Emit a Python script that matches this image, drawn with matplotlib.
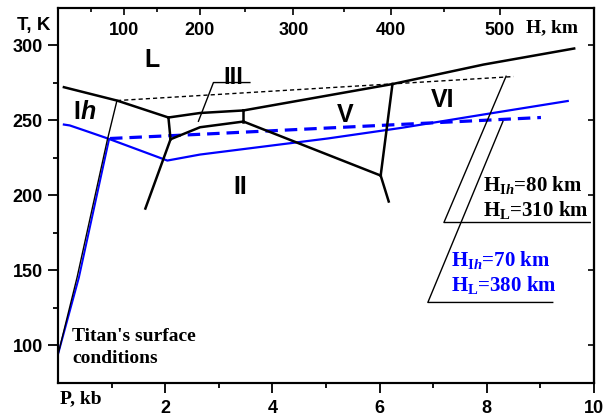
import matplotlib
matplotlib.use("Agg")
import matplotlib.pyplot as plt
import numpy as np

plt.rcParams['font.family'] = ['Liberation Sans', 'DejaVu Sans']
plt.rcParams['font.weight'] = 'bold'
plt.rcParams['lines.scale_dashes'] = False
plt.rcParams['mathtext.fontset'] = 'custom'
plt.rcParams['mathtext.rm'] = 'Liberation Serif:bold'
plt.rcParams['mathtext.it'] = 'Liberation Serif:italic:bold'
plt.rcParams['mathtext.bf'] = 'Liberation Serif:bold'

# phase boundaries of water ice (P in kb, T in K)
ih_l_P = [0.11, 1.10, 2.06]
ih_l_T = [272.2, 263.3, 252.0]
l_iii_P = [2.06, 2.65, 3.46]
l_iii_T = [252.0, 255.0, 256.7]
l_v_P = [3.46, 6.24]
l_v_T = [256.7, 274.3]
l_vi_P = [6.24, 7.94, 9.63]
l_vi_T = [274.3, 287.3, 298.0]
ih_iii_P = [2.06, 2.10]
ih_iii_T = [252.0, 237.5]
ih_ii_P = [2.10, 1.63]
ih_ii_T = [237.5, 191.3]
ii_iii_P = [2.10, 2.65, 3.46]
ii_iii_T = [237.5, 245.5, 249.3]
iii_v_P = [3.46, 3.46]
iii_v_T = [256.7, 249.3]
ii_v_P = [3.46, 6.02]
ii_v_T = [249.3, 213.3]
v_vi_P = [6.24, 6.02]
v_vi_T = [274.3, 213.3]
ii_vi_P = [6.02, 6.17]
ii_vi_T = [213.3, 196.0]

# thermal profiles, case 1 (black) and case 2 (blue)
prof1_ice_P = [0.0, 0.355, 0.92, 1.10]
prof1_ice_T = [94.0, 145.3, 237.0, 263.3]
prof1_ocean_P = [1.10, 8.50]
prof1_ocean_T = [263.3, 279.3]
prof2_ice_P = [0.0, 0.39, 0.95]
prof2_ice_T = [94.0, 145.3, 237.0]
prof2_ocean_P = [0.97, 2.65, 9.01]
prof2_ocean_T = [238.0, 240.8, 252.0]
liquidus_P = [0.11, 0.22, 0.50, 0.93, 2.04, 2.65, 5.03, 6.39, 7.94, 9.51]
liquidus_T = [247.3, 246.7, 243.3, 238.0, 223.3, 227.3, 238.0, 245.0, 254.0, 263.0]

# leader lines to the labels
lead_iii_P = [3.58, 2.90, 2.62]
lead_iii_T = [275.3, 275.3, 249.5]
lead1_P = [8.36, 7.20, 9.93]
lead1_T = [279.5, 182.0, 182.0]
lead2_P = [8.30, 6.90, 9.23]
lead2_T = [249.3, 128.7, 128.7]

# depth scale on top: H (km) and matching P (kb)
H_major = [100, 200, 300, 400, 500]
H_major_P = [1.23, 2.64, 4.39, 6.21, 8.24]
H_minor_P = [0.62, 1.85, 3.48, 5.33, 7.20]

P_ticks = [2, 4, 6, 8, 10]
P_minor = [1, 3, 5, 7, 9]
T_ticks = [100, 150, 200, 250, 300]
T_minor = [125, 175, 225, 275]

blue = '#0000ff'

fig = plt.figure(figsize=(6.03, 4.15), dpi=100)
ax = fig.add_axes([58/603, 32/415, 536/603, 375/415])

for px, ty in [(ih_l_P, ih_l_T), (l_iii_P, l_iii_T), (l_v_P, l_v_T), (l_vi_P, l_vi_T),
               (ih_iii_P, ih_iii_T), (ih_ii_P, ih_ii_T), (ii_iii_P, ii_iii_T),
               (iii_v_P, iii_v_T), (ii_v_P, ii_v_T), (v_vi_P, v_vi_T), (ii_vi_P, ii_vi_T)]:
    ax.plot(px, ty, color='black', lw=1.8, zorder=4, solid_joinstyle='miter')

ax.plot(liquidus_P, liquidus_T, color=blue, lw=1.6, zorder=3)
ax.plot(prof2_ice_P, prof2_ice_T, color=blue, lw=1.4, zorder=3)
ax.plot(prof2_ocean_P, prof2_ocean_T, color=blue, lw=2.3, dashes=(9, 5), zorder=3)
ax.plot(prof1_ice_P, prof1_ice_T, color='black', lw=1.0, zorder=4)
ax.plot(prof1_ocean_P, prof1_ocean_T, color='black', lw=1.0, dashes=(3, 2.2), zorder=4)

for px, ty in [(lead_iii_P, lead_iii_T), (lead1_P, lead1_T), (lead2_P, lead2_T)]:
    ax.plot(px, ty, color='black', lw=1.0, zorder=4)

ax.set_xlim(0, 10)
ax.set_ylim(75, 325)
ax.set_xticks(P_ticks)
ax.set_xticks(P_minor, minor=True)
ax.set_yticks(T_ticks)
ax.set_yticks(T_minor, minor=True)
ax.tick_params(axis='both', which='major', labelsize=13, width=1.3, length=7, direction='out')
ax.tick_params(axis='x', which='major', pad=5)
ax.tick_params(axis='y', which='major', pad=4)
ax.tick_params(axis='both', which='minor', width=1.3, length=3.5, direction='out')
for s in ax.spines.values():
    s.set_linewidth(1.5)

# inward ticks on the right spine
axr = ax.secondary_yaxis('right')
axr.set_yticks(T_ticks)
axr.yaxis.set_minor_locator(matplotlib.ticker.NullLocator())
axr.tick_params(direction='in', length=4, width=1.2, labelright=False)
axr.spines['right'].set_linewidth(1.5)

# depth scale along the top spine
ax2 = ax.twiny()
ax2.set_xlim(0, 10)
ax2.set_xticks(H_major_P)
ax2.set_xticklabels([str(h) for h in H_major])
ax2.set_xticks(H_minor_P, minor=True)
ax2.tick_params(axis='x', which='major', direction='in', length=5, width=1.2,
                labelsize=13, pad=-22)
ax2.tick_params(axis='x', which='minor', direction='in', length=3, width=1.2)
for s in ax2.spines.values():
    s.set_linewidth(1.5)

serif = 'Liberation Serif'
ax.text(0.873, 0.936, 'H, km', transform=ax.transAxes, family=serif,
        fontsize=14, ha='left', va='baseline')
fig.text(17/603, (415-30)/415, 'T, K', fontsize=13.5, ha='left', va='baseline')
fig.text(60/603, (415-403)/415, 'P, kb', family=serif, fontsize=14,
         ha='left', va='baseline')

ax.text(1.75, 290.3, 'L', fontsize=18, ha='center', va='center', zorder=6)
ax.text(0.41, 250.7, 'I', fontsize=18, ha='right', va='baseline', zorder=6)
ax.text(0.43, 250.7, 'h', fontsize=18, style='italic', ha='left', va='baseline', zorder=6)
ax.text(3.28, 274.0, 'III', fontsize=17, ha='center', va='baseline', zorder=6)
ax.text(5.355, 249.3, 'V', fontsize=18, ha='center', va='baseline', zorder=6)
ax.text(7.17, 258.7, 'VI', fontsize=18, ha='center', va='baseline', zorder=6)
ax.text(3.40, 200.7, 'II', fontsize=18, ha='center', va='baseline', zorder=6)

ax.text(7.925, 202.7, r'H$_{\mathrm{I}\mathit{h}}$=80 km', family=serif, fontsize=15,
        ha='left', va='baseline', zorder=6)
ax.text(7.925, 186.2, r'H$_{\mathrm{L}}$=310 km', family=serif, fontsize=15,
        ha='left', va='baseline', zorder=6)
ax.text(7.33, 152.9, r'H$_{\mathrm{I}\mathit{h}}$=70 km', family=serif, fontsize=15,
        color=blue, ha='left', va='baseline', zorder=6)
ax.text(7.33, 136.2, r'H$_{\mathrm{L}}$=380 km', family=serif, fontsize=15,
        color=blue, ha='left', va='baseline', zorder=6)
ax.text(0.26, 102.7, "Titan's surface", family=serif, fontsize=14,
        ha='left', va='baseline', zorder=6)
ax.text(0.26, 88.4, "conditions", family=serif, fontsize=14,
        ha='left', va='baseline', zorder=6)

fig.savefig('out.png', dpi=100)
